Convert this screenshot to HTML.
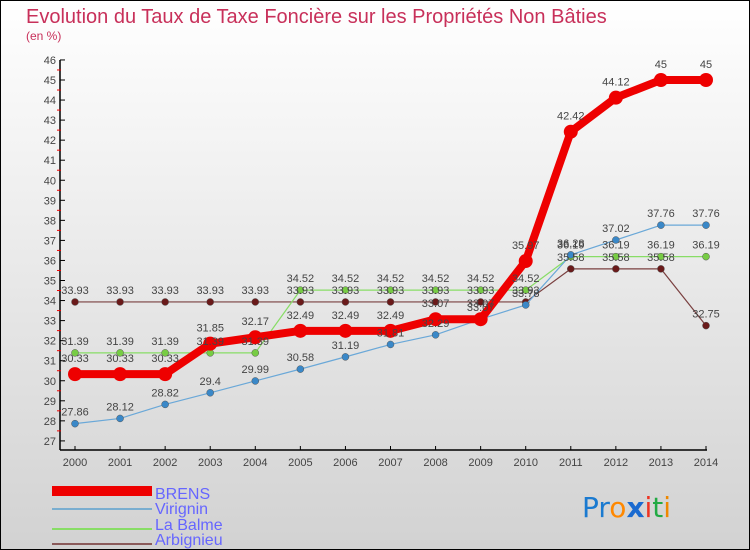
<!DOCTYPE html>
<html><head><meta charset="utf-8"><style>
body{margin:0}
svg{display:block;font-family:"Liberation Sans",sans-serif}
</style></head><body>
<svg id="c" width="750" height="550" xmlns="http://www.w3.org/2000/svg">
<defs><linearGradient id="bg" x1="0" y1="0" x2="0" y2="1"><stop offset="0" stop-color="#ffffff"/><stop offset="1" stop-color="#d2d2d2"/></linearGradient></defs>
<rect x="0.5" y="0.5" width="749" height="549" fill="url(#bg)" stroke="#000"/>
<text x="26" y="23" font-size="20" fill="#c8305a">Evolution du Taux de Taxe Foncière sur les Propriétés Non Bâties</text>
<text x="26" y="40" font-size="12" fill="#c8305a">(en %)</text>
<g id="axes"></g><g id="series"></g><g id="labels"></g>
<g>
<rect x="52" y="486" width="100" height="10" fill="#ee0000"/>
<text x="155" y="499" font-size="16" fill="#6666ff">BRENS</text>
<rect x="52" y="508" width="100" height="2" fill="#7aaed0"/>
<text x="155" y="514" font-size="16" fill="#6666ff">Virignin</text>
<rect x="52" y="528" width="100" height="2" fill="#88dd66"/>
<text x="155" y="530" font-size="16" fill="#6666ff">La Balme</text>
<rect x="52" y="543" width="100" height="2" fill="#8a5a5a"/>
<text x="155" y="545" font-size="16" fill="#6666ff">Arbignieu</text>
</g>
<g font-size="28" font-family="'DejaVu Sans',sans-serif">
<text x="582" y="517"><tspan fill="#1a7ad0">Pr</tspan><tspan fill="#ff8800">o</tspan><tspan fill="#1a6ad0" font-weight="bold">x</tspan><tspan fill="#ee3322">i</tspan><tspan fill="#22aa44">t</tspan><tspan fill="#ee8800">i</tspan></text>
</g>
</svg>
<script>
const years=[2000,2001,2002,2003,2004,2005,2006,2007,2008,2009,2010,2011,2012,2013,2014];
const brens=[30.33,30.33,30.33,31.85,32.17,32.49,32.49,32.49,33.07,33.07,35.97,42.42,44.12,45,45];
const virignin=[27.86,28.12,28.82,29.4,29.99,30.58,31.19,31.81,32.29,33.07,33.78,36.28,37.02,37.76,37.76];
const laBalme=[31.39,31.39,31.39,31.39,31.39,34.52,34.52,34.52,34.52,34.52,34.52,36.19,36.19,36.19,36.19];
const arbignieu=[33.93,33.93,33.93,33.93,33.93,33.93,33.93,33.93,33.93,33.93,33.93,35.58,35.58,35.58,32.75];
const yTicks=[27,28,29,30,31,32,33,34,35,36,37,38,39,40,41,42,43,44,45,46];
const NS="http://www.w3.org/2000/svg";
const X=i=>75+i*(706-75)/14;
const Y=v=>80+(45-v)*20.05;
function mk(t,a,p){const e=document.createElementNS(NS,t);for(const k in a)e.setAttribute(k,a[k]);if(p)p.appendChild(e);return e;}
const ax=document.getElementById('axes'),sg=document.getElementById('series'),lg=document.getElementById('labels');
let e=mk('line',{x1:60,y1:Y(46),x2:60,y2:450,stroke:'#000','stroke-width':1.5},ax);


e=mk('line',{x1:60,y1:450,x2:X(14)+1,y2:450,stroke:'#000','stroke-width':1.5},ax);


yTicks.forEach(v=>{
 mk('line',{x1:60,y1:Y(v),x2:65,y2:Y(v),stroke:'#000'},ax);
 if(v<46)mk('line',{x1:57,y1:Y(v+0.5),x2:61,y2:Y(v+0.5),stroke:'#e00'},ax);
 const t=mk('text',{x:56,y:Y(v)+4,'font-size':11,fill:'#444','text-anchor':'end'},ax);t.textContent=v;
 
 
});
years.forEach((y,i)=>{
 mk('line',{x1:X(i),y1:446,x2:X(i),y2:450,stroke:'#000'},ax);
 const t=mk('text',{x:X(i),y:466,'font-size':11,fill:'#444','text-anchor':'middle'},ax);t.textContent=y;
 
 
});
function series(data,name,color,lw,r,dot){
 const g=mk('g',{},sg);
 
 
 mk('polyline',{points:data.map((v,i)=>X(i)+','+Y(v)).join(' '),fill:'none',stroke:color,'stroke-width':lw},g);
 data.forEach((v,i)=>{
  const c=mk('circle',{cx:X(i),cy:Y(v),r:r,fill:dot,stroke:lw>3?'none':'#555','stroke-width':0.5},g);
  
  
  const t=mk('text',{x:X(i),y:Y(v)-8-(lw>3?4:0),'font-size':11,fill:'#444','text-anchor':'middle'},lg);
  t.textContent=v;
  
  
 });
}
series(arbignieu,'arbignieu','#7a4040',1.2,3.5,'#6a1a1a');
series(laBalme,'la-balme','#88dd66',1.2,3.5,'#77cc44');
series(virignin,'virignin','#6aa8d8',1.2,3.5,'#3a88c8');
series(brens,'brens','#ee0000',8,7,'#ee0000');
</script>
</body></html>
